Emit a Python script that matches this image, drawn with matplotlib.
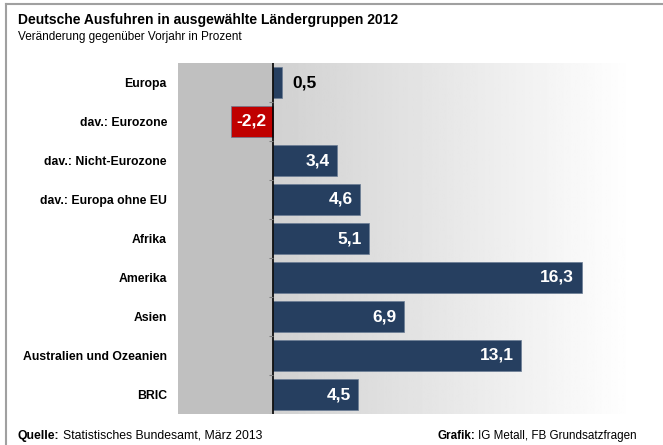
#!/usr/bin/env python
"""Deutsche Ausfuhren 2012 - horizontal bar chart"""

import numpy as np
import matplotlib
matplotlib.use("Agg")
import matplotlib.pyplot as plt
from matplotlib.lines import Line2D

plt.rcParams["font.family"] = ["Liberation Sans", "DejaVu Sans"]

### Data ###
categories = ["Europa", "dav.: Eurozone", "dav.: Nicht-Eurozone", "dav.: Europa ohne EU",
              "Afrika", "Amerika", "Asien", "Australien und Ozeanien", "BRIC"]
values = [0.5, -2.2, 3.4, 4.6, 5.1, 16.3, 6.9, 13.1, 4.5]

title = "Deutsche Ausfuhren in ausgewählte Ländergruppen 2012"
subtitle = "Veränderung gegenüber Vorjahr in Prozent"

navy = "#263f60"
red = "#c00000"

fig = plt.figure(figsize=(6.63, 4.45), dpi=100)
ax = fig.add_axes([178 / 663, 1 - 414 / 445, 455 / 663, 351 / 445])

xmin, xmax = -5, 19
n = len(categories)
y = np.arange(n)

# background: solid grey left of zero, gradient right of zero
ax.axvspan(xmin, 0, color="#c0c0c0", zorder=0, lw=0)
grad = np.linspace(0.82, 1.0, 256).reshape(1, -1)
ax.imshow(grad, cmap="gray", vmin=0, vmax=1, aspect="auto",
          extent=(0, xmax, n - 0.5, -0.5), zorder=0)

colors = [red if v < 0 else navy for v in values]
ax.barh(y, values, height=0.79, color=colors, edgecolor="#6a7c94", linewidth=0.5, zorder=2)

ax.set_xlim(xmin, xmax)
ax.set_ylim(n - 0.5, -0.5)

# zero line and small ticks between categories
ax.axvline(0, color="black", lw=1.2, zorder=3)
ax.hlines(np.arange(n) + 0.5, -0.18, 0, color="#808080", lw=0.8, zorder=3)

for i, v in enumerate(values):
    label = f"{v:.1f}".replace(".", ",")
    if v < 0:
        ax.text(v / 2, i, label, ha="center", va="center", color="white",
                fontsize=12.5, fontweight="bold", zorder=4)
    elif v < 2:
        ax.text(v + 0.55, i, label, ha="left", va="center", color="black",
                fontsize=12.5, fontweight="bold", zorder=4)
    else:
        ax.text(v - 0.4, i, label, ha="right", va="center", color="white",
                fontsize=12.5, fontweight="bold", zorder=4)

ax.set_yticks(y)
ax.set_yticklabels(categories, fontsize=8.8, fontweight="bold")
ax.tick_params(axis="y", length=0, pad=8)
ax.set_xticks([])
for s in ax.spines.values():
    s.set_visible(False)

# titles
fig.text(18 / 663, 1 - 20 / 445, title, fontsize=10, fontweight="bold", va="center")
fig.text(18 / 663, 1 - 37 / 445, subtitle, fontsize=8.5, va="center")

# footer
q = fig.text(18 / 663, 1 - 436 / 445, "Quelle:", fontsize=8.8, fontweight="bold", va="center")
ax.annotate("Statistisches Bundesamt, März 2013", xy=(1, 0.5), xycoords=q,
            xytext=(2.4, 0), textcoords="offset points",
            fontsize=8.8, va="center", annotation_clip=False)
g = fig.text(637 / 663, 1 - 436 / 445, "IG Metall, FB Grundsatzfragen", fontsize=8.4,
             ha="right", va="center")
ax.annotate("Grafik:", xy=(0, 0.5), xycoords=g, xytext=(-2.4, 0), textcoords="offset points",
            fontsize=8.4, fontweight="bold", ha="right", va="center", annotation_clip=False)

# frame lines (top and left)
fig.add_artist(Line2D([6 / 663, 1], [1 - 4 / 445] * 2, color="#a0a0a0", lw=1.5))
fig.add_artist(Line2D([6 / 663] * 2, [0, 1 - 4 / 445], color="#a0a0a0", lw=1.5))

fig.savefig("out.png", dpi=100)
